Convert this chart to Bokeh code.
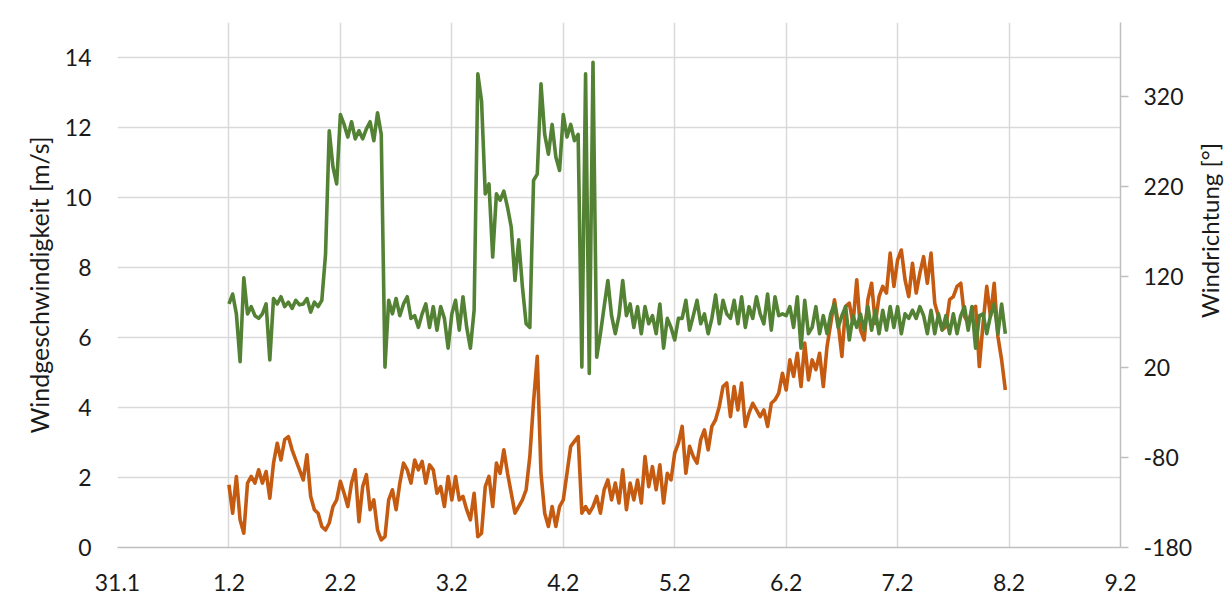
import math
import numpy as np
from bokeh.plotting import figure
from bokeh.layouts import row
from bokeh.models import Range1d, LinearAxis, FixedTicker, Label
from bokeh.embed import file_html
from bokeh.resources import INLINE

# ---- data ----
day_labels = ["31.1", "1.2", "2.2", "3.2", "4.2", "5.2", "6.2", "7.2", "8.2", "9.2"]
speed_ticks = [0, 2, 4, 6, 8, 10, 12, 14]
dir_ticks = [-180, -80, 20, 120, 220, 320]
samples_per_day = 30
first_day = 1

# Windgeschwindigkeit [m/s]
wind_speed = [
    1.79, 0.98, 2.03, 0.79, 0.41, 1.84, 2.03, 1.84, 2.22, 1.84,
    2.17, 1.41, 2.41, 2.98, 2.50, 3.08, 3.17, 2.79, 2.50, 2.22,
    1.93, 2.65, 1.46, 1.08, 0.98, 0.60, 0.50, 0.70, 1.17, 1.36,
    1.89,
    1.55, 1.17, 1.84, 2.22, 0.74, 1.74, 2.08, 1.08, 1.36, 0.50,
    0.22, 0.31, 1.36, 1.65, 1.08, 1.84, 2.41, 2.22, 1.84, 2.50,
    2.22,
    2.46, 1.84, 2.36, 2.22, 1.55, 1.74, 1.17, 2.03, 1.36, 2.03,
    1.36, 1.46, 1.08, 0.79, 1.55, 0.31, 0.41, 1.74, 2.03, 1.17,
    2.41, 2.12, 2.79, 2.12, 1.55, 0.98, 1.17, 1.36, 1.65, 2.60,
    4.17, 5.46, 2.12, 0.98, 0.60, 1.17, 0.60, 1.17, 1.36, 2.12,
    2.89, 3.03, 3.17, 0.98, 1.17, 0.98, 1.17, 1.46, 0.98, 1.65,
    1.93, 1.36, 1.84,
    1.27, 2.22, 1.08, 1.84, 1.36, 1.93, 1.27, 2.60, 1.74, 2.31,
    1.65, 2.36, 1.27, 2.12, 1.93, 2.70, 2.98, 3.46, 2.12, 2.89,
    2.60, 2.41, 3.08, 3.36, 2.79, 3.46, 3.65, 4.03, 4.60, 4.70,
    3.74, 4.60, 3.93, 4.70, 3.46, 3.84, 4.12, 3.93, 3.74, 3.93,
    3.46, 4.12, 4.22, 4.41, 4.98, 4.50, 5.36, 4.89, 5.55, 4.60,
    5.84, 4.79,
    5.36, 5.08, 5.55, 4.60, 5.74, 6.40, 7.08, 6.40, 5.46, 6.89,
    6.98, 6.40, 7.65, 6.22, 5.93, 7.08, 7.55, 6.40, 7.17, 7.46,
    7.27, 8.41, 7.46, 8.22, 8.50, 7.65, 7.17, 8.12, 7.27, 7.84,
    8.31, 7.55, 8.41, 6.98, 6.60, 6.22, 6.31, 7.08, 7.17, 7.46,
    7.55, 6.60, 6.40, 6.79, 6.89, 5.17, 6.40, 7.46, 6.60, 7.55,
    6.03, 5.36, 4.50,
]

# Windrichtung [deg]
wind_dir = [
    90, 101, 79, 26, 119, 79, 87, 77, 74, 79,
    90, 28, 96, 90, 98, 87, 92, 85, 94, 89,
    90, 96, 81, 92, 87, 94, 145, 282, 242, 223,
    300,
    289, 275, 292, 273, 282, 273, 284, 292, 271, 302,
    278, 20, 94, 79, 96, 77, 90, 98, 74, 77,
    64,
    79, 90, 64, 87, 61, 87, 74, 41, 79, 94,
    61, 98, 64, 41, 83, 345, 315, 212, 223, 142,
    212, 205, 215, 197, 175, 116, 161, 109, 68, 64,
    227, 234, 334, 278, 256, 289, 253, 238, 300, 275,
    289, 271, 278, 20, 345, 13, 358, 31, 57, 87,
    116, 77, 57,
    77, 116, 77, 90, 64, 87, 57, 87, 68, 77,
    57, 90, 41, 74, 64, 50, 74, 74, 94, 61,
    77, 94, 68, 79, 57, 74, 100, 68, 94, 79,
    74, 94, 68, 98, 64, 87, 74, 98, 79, 68,
    101, 61, 98, 77, 79, 77, 87, 64, 98, 41,
    94, 57,
    64, 87, 57, 77, 57, 79, 90, 64, 77, 87,
    50, 77, 64, 79, 61, 87, 61, 83, 57, 83,
    61, 87, 64, 87, 57, 79, 74, 83, 74, 87,
    77, 57, 83, 57, 79, 61, 77, 57, 79, 57,
    77, 87, 61, 87, 41, 77, 79, 57, 77, 90,
    57, 90, 57,
]

t = first_day + np.arange(len(wind_speed)) / samples_per_day

FONT = "Lato"
FS = "23px"
TFS = "25px"
TXT = "#1a1a1a"
GRID = "#d9d9d9"
AXIS = "#bfbfbf"

W_MAIN = 1196
W_TITLE = 28
H = 605

p = figure(width=W_MAIN, height=H, output_backend="svg", toolbar_location=None,
           x_range=Range1d(0, 9), y_range=Range1d(0, 15),
           min_border_left=117, min_border_right=W_MAIN - 117 - 1003,
           min_border_top=22, min_border_bottom=58)
p.extra_y_ranges = {"dir": Range1d(-180, 402)}
p.outline_line_color = None
p.background_fill_color = "white"
p.border_fill_color = "white"

# x axis
p.xaxis.ticker = FixedTicker(ticks=list(range(len(day_labels))))
p.xaxis.major_label_overrides = {i: lab for i, lab in enumerate(day_labels)}
p.xaxis.axis_line_color = AXIS
p.xaxis.axis_line_width = 1.5
p.xaxis.major_tick_line_color = None
p.xaxis.major_tick_out = 0
p.xaxis.major_tick_in = 0
p.xaxis.minor_tick_line_color = None
p.xaxis.major_label_standoff = 26
p.xaxis.major_label_text_font = FONT
p.xaxis.major_label_text_font_size = FS
p.xaxis.major_label_text_color = TXT

# left axis
p.yaxis.ticker = FixedTicker(ticks=speed_ticks)
p.yaxis.axis_line_color = None
p.yaxis.major_tick_line_color = None
p.yaxis.major_tick_out = 0
p.yaxis.major_tick_in = 0
p.yaxis.minor_tick_line_color = None
p.yaxis.major_label_standoff = 26
p.yaxis.major_label_text_font = FONT
p.yaxis.major_label_text_font_size = FS
p.yaxis.major_label_text_color = TXT
p.yaxis.axis_label = "Windgeschwindigkeit [m/s]"
p.yaxis.axis_label_standoff = 8
p.yaxis.axis_label_text_font = FONT
p.yaxis.axis_label_text_font_size = TFS
p.yaxis.axis_label_text_font_style = "normal"
p.yaxis.axis_label_text_color = TXT

# right axis
ax2 = LinearAxis(y_range_name="dir", ticker=FixedTicker(ticks=dir_ticks))
ax2.major_label_overrides = {v: str(v) for v in dir_ticks}
ax2.axis_line_color = AXIS
ax2.axis_line_width = 1.5
ax2.major_tick_line_color = AXIS
ax2.major_tick_line_width = 1.5
ax2.major_tick_in = 0
ax2.major_tick_out = 8
ax2.minor_tick_line_color = None
ax2.major_label_standoff = 15
ax2.major_label_text_align = "left"
ax2.major_label_text_baseline = "middle"
ax2.major_label_text_font = FONT
ax2.major_label_text_font_size = FS
ax2.major_label_text_color = TXT
p.add_layout(ax2, "right")

# grids
p.xgrid.ticker = FixedTicker(ticks=list(range(len(day_labels))))
p.xgrid.grid_line_color = GRID
p.xgrid.grid_line_width = 1.5
p.ygrid.ticker = FixedTicker(ticks=speed_ticks)
p.ygrid.grid_line_color = GRID
p.ygrid.grid_line_width = 1.5

# series
p.line(t, wind_speed, line_color="#C55A11", line_width=3.6, line_join="round")
p.line(t, wind_dir, y_range_name="dir", line_color="#548235", line_width=3.6,
       line_join="round")

# right axis title in a narrow strip (reads bottom-to-top like the reference)
pt = figure(width=W_TITLE, height=H, output_backend="svg", toolbar_location=None,
            x_range=Range1d(0, 1), y_range=Range1d(0, 1),
            x_axis_location=None, y_axis_location=None, min_border=0)
pt.outline_line_color = None
pt.grid.visible = False
pt.background_fill_color = "white"
pt.border_fill_color = "white"
pt.add_layout(Label(x=W_TITLE / 2 - 1, y=H - 288, x_units="screen", y_units="screen",
                    text="Windrichtung [°]", angle=math.pi / 2,
                    text_align="center", text_baseline="middle",
                    text_font=FONT, text_font_size="24px", text_color=TXT))

open("out.html", "w").write(file_html(row(p, pt), INLINE))
